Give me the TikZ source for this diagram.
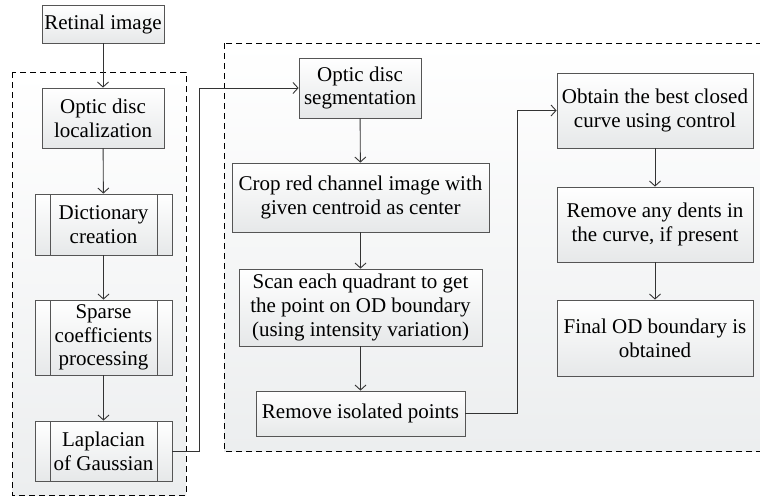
\documentclass[tikz,border=0pt]{standalone}
\usepackage{fontspec}
\setmainfont{Liberation Serif}
\usetikzlibrary{arrows.meta}
\definecolor{edge}{HTML}{333333}
\definecolor{boxline}{HTML}{555555}
\definecolor{bgbot}{HTML}{ECEEEF}
\definecolor{boxbot}{HTML}{E6E8E9}
\begin{document}
\begin{tikzpicture}[x=1pt,y=-1pt,
  every node/.style={font=\fontsize{21}{23.8}\selectfont},
  stepbox/.style={draw=boxline, line width=0.8pt, top color=white, bottom color=boxbot,
    align=center, inner sep=0pt, minimum width=#1},
  stepbox/.default=122pt,
  procbox/.style={stepbox=137pt,
    path picture={\draw[boxline, line width=0.8pt]
      ([xshift=15pt]path picture bounding box.north west) -- ([xshift=15pt]path picture bounding box.south west)
      ([xshift=-15pt]path picture bounding box.north east) -- ([xshift=-15pt]path picture bounding box.south east);}},
  group/.style={draw=black, line width=0.9pt, dash pattern=on 6pt off 4pt, top color=white, bottom color=bgbot},
  flow/.style={draw=edge, line width=0.9pt, -{Straight Barb[length=5pt,width=11pt]}}
]
\useasboundingbox (0,0) rectangle (760,498);
\clip (0,0) rectangle (760,498);
\fill[white] (0,0) rectangle (760,498);
% groups
\path[group] (12,72) rectangle (186,495);
\path[group] (224,43) rectangle (775,451);
% left column
\node[stepbox, minimum height=38pt] (ret) at (103,24) {Retinal image};
\node[stepbox, minimum height=60pt] (loc) at (103,118) {Optic disc\\localization};
\node[procbox, minimum height=61pt] (dict) at (103.5,224.5) {Dictionary\\creation};
\node[procbox, minimum height=75pt] (sparse) at (103.5,337.5) {Sparse\\coefficients\\processing};
\node[procbox, minimum height=60pt] (lap) at (103.5,451) {Laplacian\\of Gaussian};
% middle column
\node[stepbox, minimum height=60pt] (seg) at (360,88) {Optic disc\\segmentation};
\node[stepbox=257pt, minimum height=69pt] (crop) at (360.5,197.5) {Crop red channel image with\\given centroid as center};
\node[stepbox=243pt, minimum height=77pt] (scan) at (360.5,307.5) {Scan each quadrant to get\\the point on OD boundary\\(using intensity variation)};
\node[stepbox=209pt, minimum height=45pt] (iso) at (360.5,413.5) {Remove isolated points};
% right column
\node[stepbox=196pt, minimum height=75pt] (obt) at (655,110.5) {Obtain the best closed\\curve using control};
\node[stepbox=196pt, minimum height=75pt] (dent) at (655,224.5) {Remove any dents in\\the curve, if present};
\node[stepbox=196pt, minimum height=76pt] (fin) at (655,338) {Final OD boundary is\\obtained};
% connectors
\draw[flow] (ret) -- (loc);
\draw[flow] (loc) -- (dict);
\draw[flow] (dict) -- (sparse);
\draw[flow] (sparse) -- (lap);
\draw[flow] (lap.east) -- (199,451) |- (seg.west);
\draw[flow] (seg) -- (crop);
\draw[flow] (crop) -- (scan);
\draw[flow] (scan) -- (iso);
\draw[flow] (iso.east) -- (517,413.5) |- (obt.west);
\draw[flow] (obt) -- (dent);
\draw[flow] (dent) -- (fin);
\end{tikzpicture}
\end{document}
